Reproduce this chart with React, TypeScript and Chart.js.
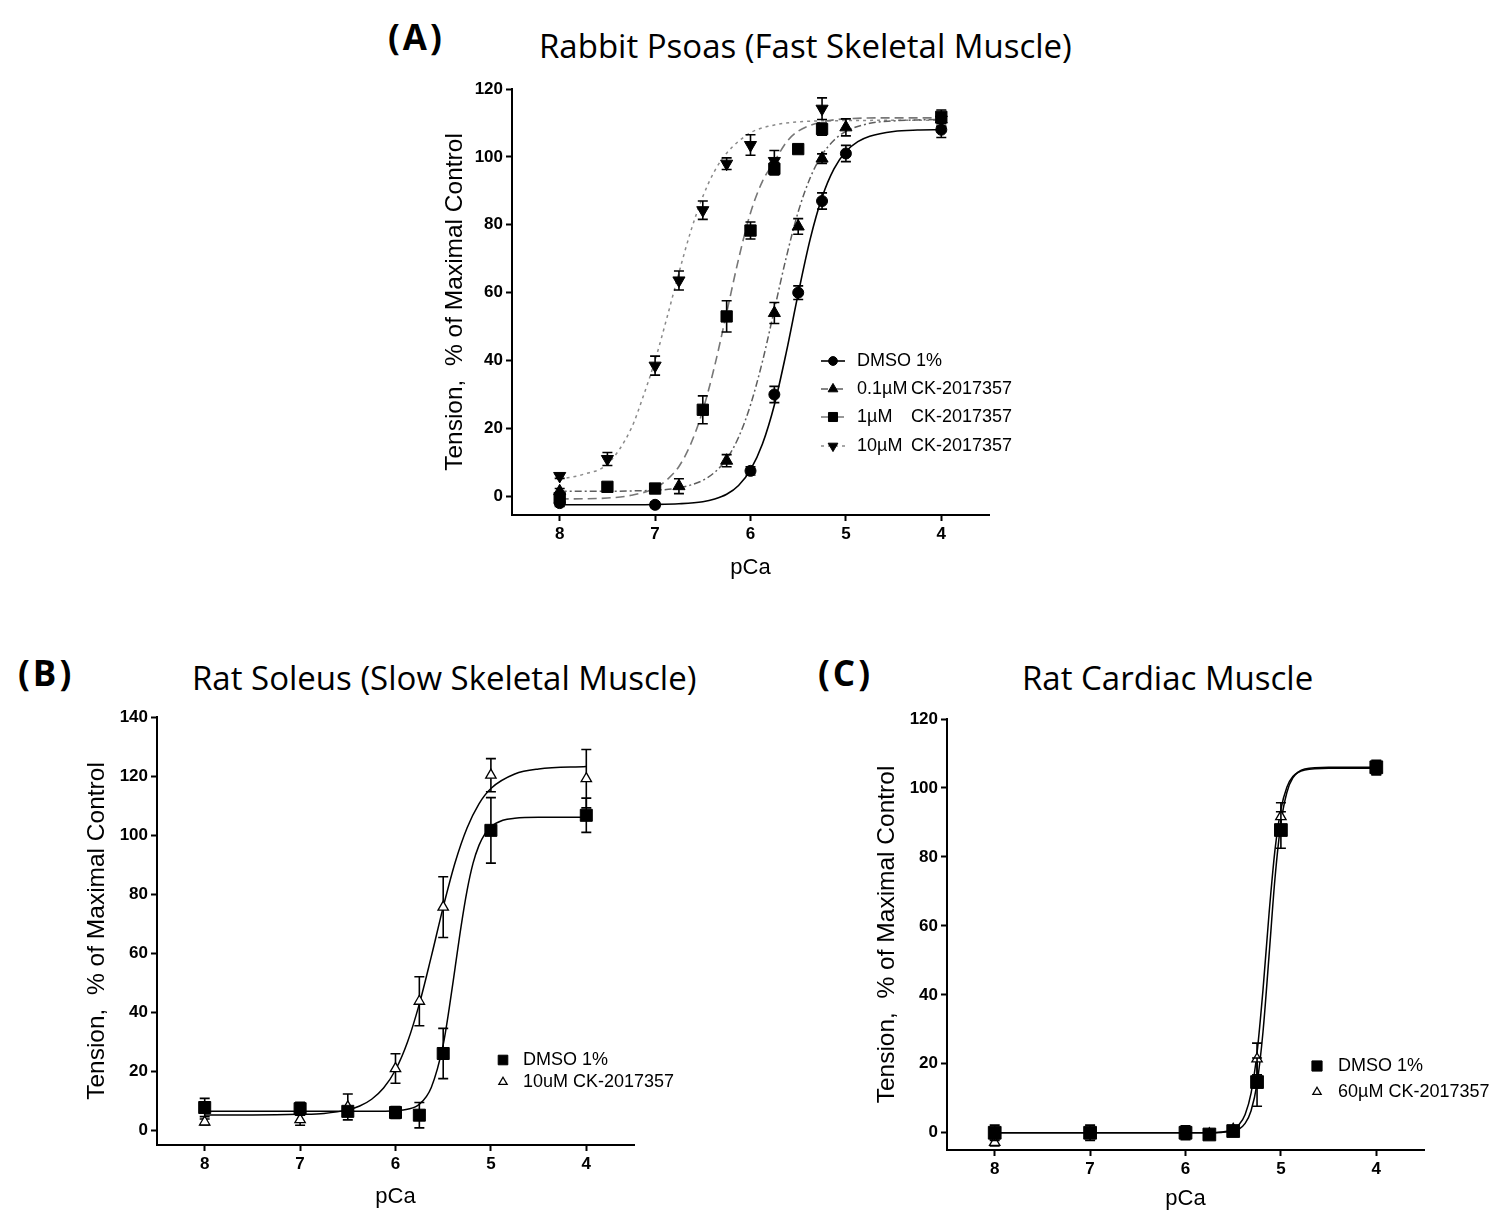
import React, { useEffect, useRef } from 'react';
import { Chart, registerables } from 'chart.js';

Chart.register(...registerables);

const AXIS_FONT = '"Liberation Sans", Arial, Helvetica, sans-serif';
const TITLE_FONT = '"Open Sans", "DejaVu Sans", sans-serif';

// ---------- shared ticks ----------
const pCaTicks = [8, 7, 6, 5, 4];
const yTicksA = [0, 20, 40, 60, 80, 100, 120];
const yTicksB = [0, 20, 40, 60, 80, 100, 120, 140];
const yTicksC = [0, 20, 40, 60, 80, 100, 120];

// ---------- Panel A: Rabbit Psoas ----------
const aDmsoX = [8, 7, 6, 5.75, 5.5, 5.25, 5, 4];
const aDmsoY = [-2, -2.5, 7.5, 30, 60, 87, 101, 108];
const aDmsoErr = [1, 0.8, 1.2, 2.4, 2.0, 2.4, 2.4, 2.3];
const aDmsoFitX = [8, 7.5, 7, 6.75, 6.5, 6.375, 6.25, 6.125, 6, 5.875, 5.75, 5.625, 5.5, 5.375, 5.25, 5.125, 5, 4.875, 4.75, 4.5, 4.25, 4];
const aDmsoFitY = [-2.5, -2.5, -2.4, -2.2, -1.6, -0.8, 0.6, 3.2, 7.8, 15.4, 26.9, 42.4, 59.7, 75.7, 88.1, 96.5, 101.6, 104.5, 106.1, 107.5, 107.9, 108];

const a01X = [8, 6.75, 6.25, 5.75, 5.5, 5.25, 5, 4];
const a01Y = [1.5, 3, 10.5, 54, 79.5, 99.5, 108.7, 111];
const a01Err = [0.8, 2.2, 1.8, 3.1, 2.3, 1.4, 2.5, 2];
const a01FitX = [8, 7.5, 7.25, 7, 6.75, 6.5, 6.375, 6.25, 6.125, 6, 5.875, 5.75, 5.625, 5.5, 5.375, 5.25, 5.125, 5, 4.75, 4.5, 4.25, 4];
const a01FitY = [1.5, 1.5, 1.6, 1.8, 2.5, 4.7, 7.1, 11.0, 17.4, 26.9, 39.7, 55.0, 70.4, 83.8, 93.8, 100.6, 104.9, 107.5, 109.9, 110.6, 110.9, 111.0];

const a1X = [8, 7.5, 7, 6.5, 6.25, 6, 5.75, 5.5, 5.25, 4];
const a1Y = [-0.5, 2.8, 2.3, 25.5, 53, 78.3, 96.5, 102.3, 108.2, 111.8];
const a1Err = [0.5, 0.5, 1, 4.1, 4.6, 2.5, 1.8, 0.5, 1.8, 2];
const a1FitX = [8, 7.5, 7.25, 7, 6.875, 6.75, 6.625, 6.5, 6.375, 6.25, 6.125, 6, 5.875, 5.75, 5.625, 5.5, 5.25, 5, 4.5, 4];
const a1FitY = [-0.8, -0.5, 0.3, 2.4, 4.9, 8.8, 15.5, 25.3, 38.5, 54.1, 69.9, 83.5, 92.8, 98.6, 104.3, 107.6, 110.3, 111.2, 111.5, 111.5];

const a10X = [8, 7.5, 7, 6.75, 6.5, 6.25, 6, 5.75, 5.25, 4];
const a10Y = [6, 11, 38.5, 63.6, 84.3, 98, 103.5, 98.8, 114.2, 111];
const a10Err = [0.7, 1.9, 2.8, 2.8, 2.7, 1.7, 3, 3.1, 3.2, 2];
const a10FitX = [8, 7.75, 7.5, 7.25, 7.125, 7, 6.875, 6.75, 6.625, 6.5, 6.375, 6.25, 6, 5.75, 5.5, 5, 4];
const a10FitY = [5.0, 6.5, 9.5, 20.0, 29.4, 40.1, 52.7, 65.9, 78.2, 88.3, 95.9, 101.1, 107.1, 109.4, 110.3, 110.7, 110.8];

// ---------- Panel B: Rat Soleus ----------
const bDmsoX = [8, 7, 6.5, 6, 5.75, 5.5, 5, 4];
const bDmsoY = [7.7, 7.3, 6.4, 6.0, 5.1, 26.0, 101.6, 106.7];
const bDmsoErr = [3.1, 2.2, 1, 2, 4.3, 8.5, 11.1, 5.8];
const bDmsoFitX = [8, 7, 6.5, 6.25, 6, 5.875, 5.75, 5.625, 5.5, 5.4375, 5.375, 5.3125, 5.25, 5.1875, 5.125, 5.0625, 5, 4.875, 4.75, 4.5, 4];
const bDmsoFitY = [6.4, 6.4, 6.4, 6.4, 6.6, 7.1, 8.8, 14.5, 29.0, 41.2, 55.1, 69.1, 81.2, 90.4, 96.5, 100.4, 102.8, 105.0, 105.7, 106.0, 106.0];

const b10X = [8, 7, 6.5, 6, 5.75, 5.5, 5, 4];
const b10Y = [2.8, 3.6, 7.9, 20.9, 43.7, 75.6, 120.3, 119.1];
const b10Err = [1, 1.9, 4.4, 5.0, 8.3, 10.3, 5.6, 9.9];
const b10FitX = [8, 7.5, 7, 6.75, 6.5, 6.375, 6.25, 6.125, 6, 5.875, 5.75, 5.625, 5.5, 5.375, 5.25, 5.125, 5, 4.75, 4.5, 4];
const b10FitY = [5.2, 5.2, 5.4, 5.7, 6.9, 8.2, 10.5, 14.3, 20.4, 29.8, 42.8, 58.8, 75.6, 90.7, 102.4, 110.6, 115.8, 120.7, 122.4, 123.2];

// ---------- Panel C: Rat Cardiac ----------
const cX = [8, 7, 6, 5.75, 5.5, 5.25, 5, 4];
const cDmsoY = [0, 0, 0, -0.5, 0.5, 14.7, 87.8, 106];
const cDmsoErr = [2.2, 2.2, 2, 1.2, 1.5, 7, 5.3, 2];
const c60Y = [-2.8, 0, 0, -0.3, 1, 21.4, 91.7, 105.3];
const c60Err = [1, 1, 1, 1, 1, 4.6, 4, 1.5];
const cFitX = [8, 7, 6, 5.75, 5.625, 5.5, 5.4375, 5.375, 5.3125, 5.25, 5.1875, 5.125, 5.0625, 5, 4.9375, 4.875, 4.75, 4.5, 4];
const cDmsoFitY = [0, 0, 0, 0, 0.1, 0.5, 1.1, 2.7, 6.4, 14.3, 29.3, 51.1, 73.6, 89.8, 98.7, 102.9, 105.5, 106, 106];
const c60FitY = [0, 0, 0, 0, 0.2, 1.0, 2.4, 5.3, 11.5, 23.2, 41.5, 63.3, 81.9, 93.8, 100.2, 103.3, 105.2, 105.7, 105.7];

type Marker = 'circle' | 'rect' | 'triangle' | 'down';

interface Series {
  label: string;
  labelCK?: string;
  x: number[];
  y: number[];
  err: number[];
  fitX: number[];
  fitY: number[];
  marker: Marker;
  filled: boolean;
  radius: number;
  lineColor: string;
  dash: number[];
  lineWidth: number;
}

interface PanelSpec {
  left: number;
  top: number;
  width: number;
  height: number;
  padding: { left: number; top: number; right: number; bottom: number };
  yAxisWidth: number;
  xAxisHeight: number;
  yMin: number;
  yMax: number;
  yTicks: number[];
  series: Series[];
  legend: { markerX: number; textX: number; ckX?: number; rows: number[]; lineHalf: number; fontSize: number; markerScale: number };
}

function drawMarker(ctx: CanvasRenderingContext2D, m: Marker, x: number, y: number, r: number, filled: boolean) {
  ctx.beginPath();
  if (m === 'circle') {
    ctx.arc(x, y, r, 0, Math.PI * 2);
  } else if (m === 'rect') {
    const s = r * Math.SQRT1_2;
    ctx.rect(x - s, y - s, 2 * s, 2 * s);
  } else {
    let rad = m === 'down' ? Math.PI : 0;
    ctx.moveTo(x + Math.sin(rad) * r, y - Math.cos(rad) * r);
    rad += (2 * Math.PI) / 3;
    ctx.lineTo(x + Math.sin(rad) * r, y - Math.cos(rad) * r);
    rad += (2 * Math.PI) / 3;
    ctx.lineTo(x + Math.sin(rad) * r, y - Math.cos(rad) * r);
    ctx.closePath();
  }
  ctx.fillStyle = filled ? '#000' : '#fff';
  ctx.fill();
  ctx.lineWidth = filled ? 1 : 1.3;
  ctx.strokeStyle = '#000';
  ctx.stroke();
}

const errorBarPlugin = {
  id: 'errorBars',
  beforeDatasetDraw(chart: any, args: any) {
    const ds = chart.data.datasets[args.index];
    if (!ds || !ds.errorBars) return;
    const xs = chart.scales.x;
    const ys = chart.scales.y;
    const ctx = chart.ctx;
    ctx.save();
    ctx.strokeStyle = '#000';
    ctx.lineWidth = 1.6;
    ctx.setLineDash([]);
    ds.data.forEach((p: any, i: number) => {
      const e = ds.errorBars[i];
      if (!e) return;
      const px = xs.getPixelForValue(p.x);
      const yt = ys.getPixelForValue(p.y + e);
      const yb = ys.getPixelForValue(p.y - e);
      ctx.beginPath();
      ctx.moveTo(px, yt);
      ctx.lineTo(px, yb);
      ctx.moveTo(px - 5, yt);
      ctx.lineTo(px + 5, yt);
      ctx.moveTo(px - 5, yb);
      ctx.lineTo(px + 5, yb);
      ctx.stroke();
    });
    ctx.restore();
  },
};

function makeLegendPlugin(spec: PanelSpec) {
  return {
    id: 'panelLegend',
    afterDraw(chart: any) {
      const ctx: CanvasRenderingContext2D = chart.ctx;
      const lg = spec.legend;
      ctx.save();
      spec.series.forEach((s, i) => {
        const y = lg.rows[i] - spec.top;
        const mx = lg.markerX - spec.left;
        if (lg.lineHalf > 0) {
          ctx.beginPath();
          ctx.setLineDash(s.dash);
          ctx.strokeStyle = s.lineColor;
          ctx.lineWidth = s.lineWidth;
          ctx.moveTo(mx - lg.lineHalf, y);
          ctx.lineTo(mx + lg.lineHalf, y);
          ctx.stroke();
          ctx.setLineDash([]);
        }
        drawMarker(ctx, s.marker, mx, y, s.radius * lg.markerScale, s.filled);
        ctx.fillStyle = '#000';
        ctx.font = `${lg.fontSize}px ${AXIS_FONT}`;
        ctx.textBaseline = 'middle';
        ctx.textAlign = 'left';
        ctx.fillText(s.label, lg.textX - spec.left, y);
        if (s.labelCK && lg.ckX) ctx.fillText(s.labelCK, lg.ckX - spec.left, y);
      });
      ctx.restore();
    },
  };
}

function buildConfig(spec: PanelSpec): any {
  const pointSets = spec.series.map((s) => ({
    type: 'scatter',
    data: s.x.map((v, i) => ({ x: v, y: s.y[i] })),
    errorBars: s.err,
    showLine: false,
    pointStyle: s.marker === 'down' ? 'triangle' : s.marker,
    rotation: s.marker === 'down' ? 180 : 0,
    pointRadius: s.radius,
    pointHoverRadius: s.radius,
    pointBackgroundColor: s.filled ? '#000' : '#fff',
    pointBorderColor: '#000',
    pointBorderWidth: s.filled ? 1 : 1.3,
    order: 0,
  }));
  const fitSets = spec.series.map((s) => ({
    type: 'scatter',
    data: s.fitX.map((v, i) => ({ x: v, y: s.fitY[i] })),
    showLine: true,
    pointRadius: 0,
    pointHoverRadius: 0,
    borderColor: s.lineColor,
    borderWidth: s.lineWidth,
    borderDash: s.dash,
    cubicInterpolationMode: 'monotone',
    fill: false,
    order: 1,
  }));
  return {
    type: 'scatter',
    data: { datasets: [...pointSets, ...fitSets] },
    options: {
      responsive: false,
      animation: false,
      events: [],
      layout: { padding: spec.padding },
      plugins: { legend: { display: false }, tooltip: { enabled: false }, title: { display: false } },
      scales: {
        x: {
          type: 'linear',
          position: 'bottom',
          reverse: true,
          min: 3.5,
          max: 8.5,
          afterBuildTicks: (sc: any) => {
            sc.ticks = pCaTicks.map((v) => ({ value: v }));
          },
          afterFit: (sc: any) => {
            sc.height = spec.xAxisHeight;
          },
          grid: { display: true, drawOnChartArea: false, drawTicks: true, tickLength: 6, tickWidth: 2, tickColor: '#000', color: '#000' },
          border: { display: true, color: '#000', width: 2 },
          ticks: { color: '#000', padding: 3, autoSkip: false, maxRotation: 0, font: { family: AXIS_FONT, size: 17, weight: 'bold' } },
          title: { display: true, text: 'pCa', color: '#000', padding: 0, font: { family: AXIS_FONT, size: 22 } },
        },
        y: {
          type: 'linear',
          position: 'left',
          min: spec.yMin,
          max: spec.yMax,
          afterBuildTicks: (sc: any) => {
            sc.ticks = spec.yTicks.map((v) => ({ value: v }));
          },
          afterFit: (sc: any) => {
            sc.width = spec.yAxisWidth;
          },
          grid: { display: true, drawOnChartArea: false, drawTicks: true, tickLength: 6, tickWidth: 2, tickColor: '#000', color: '#000' },
          border: { display: true, color: '#000', width: 2 },
          ticks: { color: '#000', padding: 3, font: { family: AXIS_FONT, size: 17, weight: 'bold' } },
          title: { display: true, text: 'Tension,  % of Maximal Control', color: '#000', padding: 0, font: { family: AXIS_FONT, size: 24.5 } },
        },
      },
    },
    plugins: [errorBarPlugin, makeLegendPlugin(spec)],
  };
}

const panelA: PanelSpec = {
  left: 420,
  top: 60,
  width: 620,
  height: 530,
  padding: { left: 21, top: 29, right: 51, bottom: 9 },
  yAxisWidth: 71,
  xAxisHeight: 66,
  yMin: -5.5,
  yMax: 120,
  yTicks: yTicksA,
  series: [
    { label: 'DMSO 1%', x: aDmsoX, y: aDmsoY, err: aDmsoErr, fitX: aDmsoFitX, fitY: aDmsoFitY, marker: 'circle', filled: true, radius: 5.5, lineColor: '#000', dash: [], lineWidth: 1.6 },
    { label: '0.1µM', labelCK: 'CK-2017357', x: a01X, y: a01Y, err: a01Err, fitX: a01FitX, fitY: a01FitY, marker: 'triangle', filled: true, radius: 7, lineColor: '#5e5e5e', dash: [7, 3, 2, 3], lineWidth: 1.5 },
    { label: '1µM', labelCK: 'CK-2017357', x: a1X, y: a1Y, err: a1Err, fitX: a1FitX, fitY: a1FitY, marker: 'rect', filled: true, radius: 8, lineColor: '#777', dash: [9, 5], lineWidth: 1.6 },
    { label: '10µM', labelCK: 'CK-2017357', x: a10X, y: a10Y, err: a10Err, fitX: a10FitX, fitY: a10FitY, marker: 'down', filled: true, radius: 7, lineColor: '#8a8a8a', dash: [3, 4], lineWidth: 1.5 },
  ],
  legend: { markerX: 833, textX: 857, ckX: 911, rows: [361, 389, 417, 446], lineHalf: 12, fontSize: 18, markerScale: 0.8 },
};

const panelB: PanelSpec = {
  left: 40,
  top: 690,
  width: 650,
  height: 520,
  padding: { left: 43, top: 27, right: 56, bottom: 0 },
  yAxisWidth: 74,
  xAxisHeight: 65,
  yMin: -5,
  yMax: 140,
  yTicks: yTicksB,
  series: [
    { label: 'DMSO 1%', x: bDmsoX, y: bDmsoY, err: bDmsoErr, fitX: bDmsoFitX, fitY: bDmsoFitY, marker: 'rect', filled: true, radius: 8.5, lineColor: '#000', dash: [], lineWidth: 1.5 },
    { label: '10uM CK-2017357', x: b10X, y: b10Y, err: b10Err, fitX: b10FitX, fitY: b10FitY, marker: 'triangle', filled: false, radius: 6, lineColor: '#000', dash: [], lineWidth: 1.5 },
  ],
  legend: { markerX: 503, textX: 523, rows: [1060, 1082], lineHalf: 0, fontSize: 18, markerScale: 0.8 },
};

const panelC: PanelSpec = {
  left: 850,
  top: 690,
  width: 639,
  height: 522,
  padding: { left: 23, top: 29, right: 65, bottom: 0 },
  yAxisWidth: 74,
  xAxisHeight: 62,
  yMin: -5,
  yMax: 120,
  yTicks: yTicksC,
  series: [
    { label: 'DMSO 1%', x: cX, y: cDmsoY, err: cDmsoErr, fitX: cFitX, fitY: cDmsoFitY, marker: 'rect', filled: true, radius: 9, lineColor: '#000', dash: [], lineWidth: 1.5 },
    { label: '60µM CK-2017357', x: cX, y: c60Y, err: c60Err, fitX: cFitX, fitY: c60FitY, marker: 'triangle', filled: false, radius: 6, lineColor: '#000', dash: [], lineWidth: 1.5 },
  ],
  legend: { markerX: 1317, textX: 1338, rows: [1066, 1092], lineHalf: 0, fontSize: 18, markerScale: 0.8 },
};

function Panel({ spec }: { spec: PanelSpec }) {
  const ref = useRef<HTMLCanvasElement | null>(null);
  useEffect(() => {
    const canvas = ref.current;
    if (!canvas) return;
    const chart = new Chart(canvas, buildConfig(spec));
    return () => chart.destroy();
  }, [spec]);
  return (
    <canvas
      ref={ref}
      width={spec.width}
      height={spec.height}
      style={{ position: 'absolute', left: spec.left, top: spec.top, width: spec.width, height: spec.height }}
    />
  );
}

const labelStyle = (left: number, top: number): React.CSSProperties => ({
  position: 'absolute',
  left,
  top,
  fontFamily: TITLE_FONT,
  fontWeight: 700,
  fontSize: 35,
  lineHeight: 1,
  letterSpacing: 3,
  whiteSpace: 'nowrap',
  color: '#000',
});

const titleStyle = (left: number, top: number): React.CSSProperties => ({
  position: 'absolute',
  left,
  top,
  fontFamily: TITLE_FONT,
  fontWeight: 400,
  fontSize: 33,
  lineHeight: 1,
  whiteSpace: 'nowrap',
  color: '#000',
});

export default function App() {
  return (
    <div style={{ position: 'absolute', left: 0, top: 0, width: 1489, height: 1210, overflow: 'hidden', background: '#fff' }}>
      <div style={labelStyle(388, 19)}>(A)</div>
      <div style={titleStyle(539, 29)}>Rabbit Psoas (Fast Skeletal Muscle)</div>
      <div style={labelStyle(18, 655)}>(B)</div>
      <div style={titleStyle(192, 661)}>Rat Soleus (Slow Skeletal Muscle)</div>
      <div style={labelStyle(818, 655)}>(C)</div>
      <div style={titleStyle(1022, 661)}>Rat Cardiac Muscle</div>
      <Panel spec={panelA} />
      <Panel spec={panelB} />
      <Panel spec={panelC} />
    </div>
  );
}
